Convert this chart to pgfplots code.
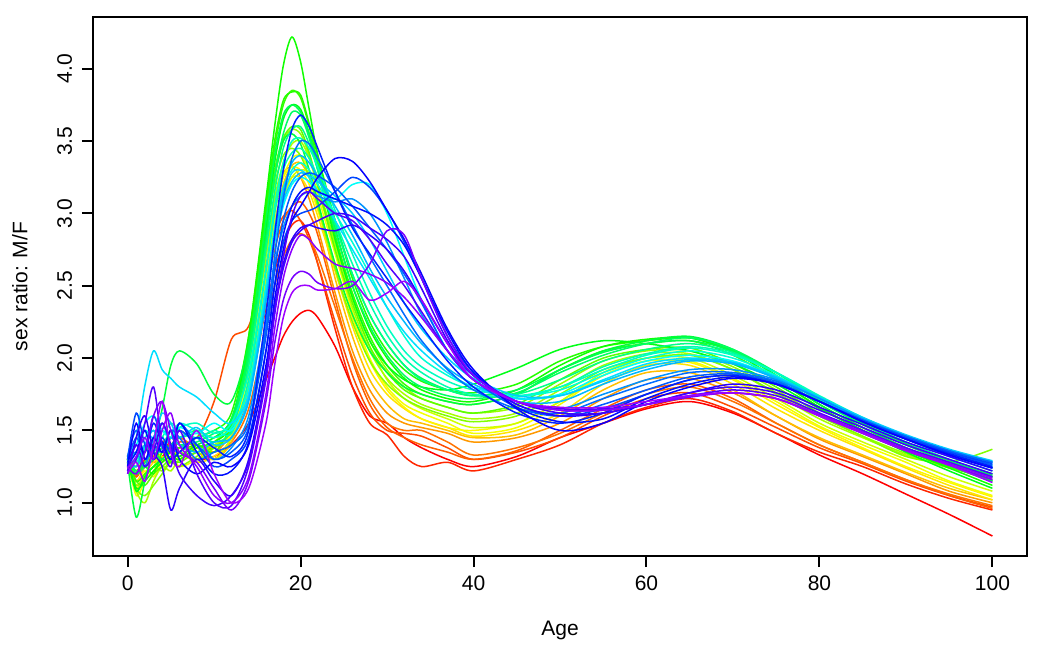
\documentclass[border=0pt]{standalone}
\usepackage{pgfplots}
\pgfplotsset{compat=1.18}
\usepackage{fontspec}
\setmainfont{Liberation Sans}
\definecolor{c0}{hsb}{0.0000,1,1}
\definecolor{c1}{hsb}{0.0248,1,1}
\definecolor{c2}{hsb}{0.0497,1,1}
\definecolor{c2b}{hsb}{0.0620,1,1}
\definecolor{c3}{hsb}{0.0745,1,1}
\definecolor{c4}{hsb}{0.0994,1,1}
\definecolor{c5}{hsb}{0.1242,1,1}
\definecolor{c6}{hsb}{0.1490,1,1}
\definecolor{c6b}{hsb}{0.1610,1,1}
\definecolor{c7}{hsb}{0.1739,1,1}
\definecolor{c8}{hsb}{0.1987,1,1}
\definecolor{c9}{hsb}{0.2235,1,1}
\definecolor{c9b}{hsb}{0.2360,1,1}
\definecolor{c10}{hsb}{0.2484,1,1}
\definecolor{c11}{hsb}{0.2732,1,1}
\definecolor{c12}{hsb}{0.2981,1,1}
\definecolor{c12b}{hsb}{0.3100,1,1}
\definecolor{c13}{hsb}{0.3229,1,1}
\definecolor{c14}{hsb}{0.3477,1,1}
\definecolor{c15}{hsb}{0.3726,1,1}
\definecolor{c15b}{hsb}{0.3850,1,1}
\definecolor{c16}{hsb}{0.3974,1,1}
\definecolor{c17}{hsb}{0.4223,1,1}
\definecolor{c18}{hsb}{0.4471,1,1}
\definecolor{c18b}{hsb}{0.4600,1,1}
\definecolor{c19}{hsb}{0.4719,1,1}
\definecolor{c20}{hsb}{0.4968,1,1}
\definecolor{c21}{hsb}{0.5216,1,1}
\definecolor{c21b}{hsb}{0.5340,1,1}
\definecolor{c22}{hsb}{0.5465,1,1}
\definecolor{c23}{hsb}{0.5713,1,1}
\definecolor{c24}{hsb}{0.5961,1,1}
\definecolor{c24b}{hsb}{0.6080,1,1}
\definecolor{c25}{hsb}{0.6210,1,1}
\definecolor{c26}{hsb}{0.6458,1,1}
\definecolor{c26b}{hsb}{0.6580,1,1}
\definecolor{c27}{hsb}{0.6706,1,1}
\definecolor{c28}{hsb}{0.6955,1,1}
\definecolor{c28b}{hsb}{0.7080,1,1}
\definecolor{c29}{hsb}{0.7203,1,1}
\definecolor{c30}{hsb}{0.7452,1,1}
\definecolor{c30b}{hsb}{0.7580,1,1}
\definecolor{c31}{hsb}{0.7700,1,1}
\begin{document}
\begin{tikzpicture}
\path[use as bounding box] (-46.5pt,-46pt) rectangle (477.5pt,278pt);
\begin{axis}[
  at={(0,0)}, anchor=south west,
  scale only axis, width=467pt, height=269.5pt,
  xmin=-4, xmax=104, ymin=0.632, ymax=4.358,
  xtick={0,20,40,60,80,100},
  ytick={1,1.5,2,2.5,3,3.5,4},
  yticklabel={\pgfmathprintnumber[fixed,fixed zerofill,precision=1]{\tick}},
  /pgf/number format/assume math mode=true,
  tick align=outside, xtick pos=left, ytick pos=left,
  major tick length=5.5pt,
  every tick/.style={black, line width=1pt},
  axis line style={line width=1.2pt},
  tick label style={font=\fontsize{10.5}{12}\selectfont},
  label style={font=\fontsize{10.5}{12}\selectfont},
  xticklabel style={anchor=center, yshift=-8pt},
  yticklabel style={xshift=-8.7pt, rotate=90, anchor=center},
  xlabel={Age}, ylabel={sex ratio: M/F},
  xlabel style={at={(axis description cs:0.5,-0.139)}, anchor=center},
  ylabel style={at={(axis description cs:-0.0782,0.5)}, anchor=center},
  every axis plot/.append style={smooth, line width=0.75pt, mark=none},
  clip=true,
]
\addplot[c0] coordinates {(0,1.25)(1,1.18)(2,1.30)(3,1.28)(4,1.32)(5,1.38)(6,1.35)(8,1.30)(10,1.32)(12,1.40)(14,1.55)(16,1.85)(17,2.00)(18,2.15)(19,2.25)(20,2.31)(21,2.33)(22,2.28)(24,2.08)(26,1.80)(28,1.60)(30,1.55)(32,1.45)(34,1.38)(37,1.30)(40,1.25)(45,1.32)(50,1.45)(55,1.55)(60,1.65)(65,1.70)(70,1.62)(75,1.48)(80,1.33)(85,1.20)(90,1.06)(95,0.92)(100,0.77)};
\addplot[c1] coordinates {(0,1.30)(1,1.20)(2,1.35)(3,1.40)(4,1.30)(5,1.45)(6,1.40)(8,1.35)(10,1.30)(12,1.45)(14,1.75)(16,2.35)(17,2.60)(18,2.80)(19,2.92)(20,2.95)(21,2.85)(22,2.65)(24,2.20)(26,1.80)(28,1.55)(30,1.47)(32,1.32)(34,1.25)(37,1.28)(40,1.22)(45,1.30)(50,1.40)(55,1.55)(60,1.66)(65,1.72)(70,1.63)(75,1.48)(80,1.35)(85,1.25)(90,1.13)(95,1.03)(100,0.95)};
\addplot[c2] coordinates {(0,1.28)(1,1.22)(2,1.30)(3,1.35)(4,1.42)(5,1.45)(6,1.50)(8,1.45)(10,1.70)(12,2.13)(14,2.22)(16,2.65)(17,2.85)(18,2.98)(19,3.02)(20,2.95)(21,2.82)(22,2.65)(24,2.25)(26,1.88)(28,1.62)(30,1.50)(32,1.48)(34,1.46)(37,1.38)(40,1.30)(45,1.35)(50,1.45)(55,1.60)(60,1.72)(65,1.76)(70,1.66)(75,1.52)(80,1.38)(85,1.27)(90,1.15)(95,1.05)(100,0.97)};
\addplot[c2b] coordinates {(0,1.30)(1,1.18)(2,1.28)(3,1.32)(4,1.38)(5,1.35)(6,1.42)(8,1.40)(10,1.38)(12,1.48)(14,1.80)(16,2.45)(17,2.75)(18,2.95)(19,3.05)(20,3.08)(21,3.00)(22,2.85)(24,2.40)(26,1.98)(28,1.68)(30,1.52)(32,1.45)(34,1.40)(37,1.35)(40,1.30)(45,1.36)(50,1.50)(55,1.65)(60,1.78)(65,1.82)(70,1.72)(75,1.55)(80,1.40)(85,1.28)(90,1.16)(95,1.05)(100,0.96)};
\addplot[c3] coordinates {(0,1.32)(1,1.25)(2,1.38)(3,1.30)(4,1.35)(5,1.40)(6,1.45)(8,1.38)(10,1.35)(12,1.42)(14,1.65)(16,2.20)(17,2.50)(18,2.70)(19,2.82)(20,2.86)(21,2.82)(22,2.70)(24,2.35)(26,2.00)(28,1.72)(30,1.55)(32,1.50)(34,1.50)(37,1.42)(40,1.33)(45,1.38)(50,1.48)(55,1.62)(60,1.75)(65,1.80)(70,1.70)(75,1.55)(80,1.40)(85,1.28)(90,1.16)(95,1.06)(100,0.98)};
\addplot[c4] coordinates {(0,1.30)(1,1.20)(2,1.25)(3,1.30)(4,1.28)(5,1.35)(6,1.32)(8,1.40)(10,1.35)(12,1.50)(14,2.00)(16,2.75)(17,3.10)(18,3.28)(19,3.32)(20,3.25)(21,3.10)(22,2.90)(24,2.45)(26,2.05)(28,1.78)(30,1.62)(32,1.55)(34,1.52)(37,1.48)(40,1.42)(45,1.45)(50,1.55)(55,1.72)(60,1.85)(65,1.86)(70,1.76)(75,1.60)(80,1.44)(85,1.32)(90,1.20)(95,1.08)(100,1.00)};
\addplot[c5] coordinates {(0,1.28)(1,1.15)(2,1.25)(3,1.35)(4,1.40)(5,1.30)(6,1.38)(8,1.35)(10,1.30)(12,1.42)(14,1.80)(16,2.50)(17,2.90)(18,3.20)(19,3.33)(20,3.35)(21,3.25)(22,3.05)(24,2.55)(26,2.15)(28,1.85)(30,1.68)(32,1.58)(34,1.55)(37,1.50)(40,1.45)(45,1.47)(50,1.60)(55,1.78)(60,1.90)(65,1.90)(70,1.78)(75,1.60)(80,1.45)(85,1.33)(90,1.21)(95,1.10)(100,1.02)};
\addplot[c6] coordinates {(0,1.25)(1,1.10)(2,1.20)(3,1.28)(4,1.32)(5,1.30)(6,1.35)(8,1.28)(10,1.32)(12,1.45)(14,1.85)(16,2.55)(17,2.95)(18,3.15)(19,3.25)(20,3.25)(21,3.15)(22,2.98)(24,2.60)(26,2.22)(28,1.92)(30,1.75)(32,1.65)(34,1.58)(37,1.52)(40,1.46)(45,1.50)(50,1.62)(55,1.82)(60,1.95)(65,1.95)(70,1.82)(75,1.65)(80,1.50)(85,1.37)(90,1.24)(95,1.12)(100,1.02)};
\addplot[c6b] coordinates {(0,1.27)(1,1.15)(2,1.22)(3,1.18)(4,1.28)(5,1.32)(6,1.30)(8,1.35)(10,1.40)(12,1.50)(14,1.95)(16,2.70)(17,3.05)(18,3.25)(19,3.32)(20,3.30)(21,3.20)(22,3.02)(24,2.65)(26,2.28)(28,1.98)(30,1.78)(32,1.66)(34,1.58)(37,1.52)(40,1.50)(45,1.55)(50,1.70)(55,1.88)(60,1.98)(65,1.97)(70,1.85)(75,1.68)(80,1.52)(85,1.38)(90,1.25)(95,1.14)(100,1.04)};
\addplot[c7] coordinates {(0,1.30)(1,1.05)(2,1.15)(3,1.22)(4,1.30)(5,1.35)(6,1.25)(8,1.30)(10,1.38)(12,1.48)(14,1.90)(16,2.60)(17,3.00)(18,3.25)(19,3.38)(20,3.40)(21,3.30)(22,3.12)(24,2.72)(26,2.32)(28,2.00)(30,1.80)(32,1.68)(34,1.62)(37,1.55)(40,1.48)(45,1.52)(50,1.68)(55,1.88)(60,1.98)(65,1.98)(70,1.86)(75,1.70)(80,1.53)(85,1.40)(90,1.28)(95,1.15)(100,1.05)};
\addplot[c8] coordinates {(0,1.28)(1,1.12)(2,1.20)(3,1.25)(4,1.35)(5,1.28)(6,1.32)(8,1.38)(10,1.30)(12,1.45)(14,1.80)(16,2.45)(17,2.85)(18,3.10)(19,3.25)(20,3.30)(21,3.28)(22,3.15)(24,2.78)(26,2.40)(28,2.08)(30,1.85)(32,1.72)(34,1.65)(37,1.58)(40,1.52)(45,1.55)(50,1.70)(55,1.90)(60,2.00)(65,2.00)(70,1.88)(75,1.72)(80,1.55)(85,1.42)(90,1.30)(95,1.18)(100,1.08)};
\addplot[c9] coordinates {(0,1.30)(1,1.08)(2,1.00)(3,1.15)(4,1.25)(5,1.22)(6,1.30)(8,1.35)(10,1.40)(12,1.50)(14,1.95)(16,2.70)(17,3.10)(18,3.35)(19,3.48)(20,3.50)(21,3.38)(22,3.18)(24,2.75)(26,2.35)(28,2.05)(30,1.86)(32,1.75)(34,1.68)(37,1.62)(40,1.58)(45,1.62)(50,1.78)(55,1.95)(60,2.03)(65,2.03)(70,1.92)(75,1.75)(80,1.58)(85,1.45)(90,1.33)(95,1.25)(100,1.20)};
\addplot[c9b] coordinates {(0,1.33)(1,1.12)(2,1.18)(3,1.25)(4,1.22)(5,1.30)(6,1.35)(8,1.30)(10,1.38)(12,1.52)(14,2.02)(16,2.85)(17,3.25)(18,3.50)(19,3.58)(20,3.55)(21,3.40)(22,3.20)(24,2.80)(26,2.42)(28,2.12)(30,1.92)(32,1.80)(34,1.72)(37,1.66)(40,1.62)(45,1.66)(50,1.82)(55,1.98)(60,2.05)(65,2.05)(70,1.94)(75,1.78)(80,1.60)(85,1.46)(90,1.34)(95,1.24)(100,1.18)};
\addplot[c10] coordinates {(0,1.32)(1,1.10)(2,1.05)(3,1.12)(4,1.20)(5,1.28)(6,1.25)(8,1.32)(10,1.42)(12,1.55)(14,2.00)(16,2.85)(17,3.20)(18,3.40)(19,3.45)(20,3.40)(21,3.25)(22,3.05)(24,2.62)(26,2.25)(28,1.98)(30,1.82)(32,1.72)(34,1.66)(37,1.60)(40,1.56)(45,1.60)(50,1.75)(55,1.92)(60,2.00)(65,2.02)(70,1.92)(75,1.76)(80,1.60)(85,1.46)(90,1.32)(95,1.28)(100,1.37)};
\addplot[c11] coordinates {(0,1.30)(1,1.15)(2,1.12)(3,1.20)(4,1.25)(5,1.30)(6,1.28)(8,1.35)(10,1.38)(12,1.52)(14,2.05)(16,2.90)(17,3.30)(18,3.52)(19,3.60)(20,3.58)(21,3.42)(22,3.20)(24,2.75)(26,2.38)(28,2.08)(30,1.90)(32,1.78)(34,1.72)(37,1.66)(40,1.62)(45,1.68)(50,1.85)(55,2.00)(60,2.06)(65,2.07)(70,1.96)(75,1.80)(80,1.62)(85,1.48)(90,1.36)(95,1.25)(100,1.16)};
\addplot[c12] coordinates {(0,1.32)(1,1.15)(2,1.20)(3,1.25)(4,1.30)(5,1.28)(6,1.35)(8,1.40)(10,1.35)(12,1.55)(14,2.10)(16,3.00)(17,3.45)(18,3.75)(19,3.85)(20,3.80)(21,3.60)(22,3.35)(24,2.85)(26,2.45)(28,2.15)(30,1.95)(32,1.82)(34,1.75)(37,1.70)(40,1.68)(45,1.75)(50,1.92)(55,2.05)(60,2.10)(65,2.12)(70,2.02)(75,1.85)(80,1.66)(85,1.50)(90,1.36)(95,1.25)(100,1.15)};
\addplot[c12b] coordinates {(0,1.30)(1,1.20)(2,1.25)(3,1.20)(4,1.35)(5,1.40)(6,1.38)(8,1.45)(10,1.50)(12,1.62)(14,2.15)(16,3.05)(17,3.50)(18,3.78)(19,3.84)(20,3.82)(21,3.62)(22,3.40)(24,2.95)(26,2.55)(28,2.25)(30,2.05)(32,1.92)(34,1.84)(37,1.78)(40,1.76)(45,1.82)(50,1.98)(55,2.08)(60,2.12)(65,2.14)(70,2.05)(75,1.88)(80,1.68)(85,1.52)(90,1.38)(95,1.27)(100,1.18)};
\addplot[c13] coordinates {(0,1.30)(1,1.10)(2,1.15)(3,1.22)(4,1.28)(5,1.32)(6,1.30)(8,1.38)(10,1.42)(12,1.55)(14,2.15)(16,3.10)(17,3.60)(18,4.02)(19,4.22)(20,4.05)(21,3.72)(22,3.40)(24,2.90)(26,2.50)(28,2.20)(30,2.00)(32,1.86)(34,1.78)(37,1.72)(40,1.70)(45,1.78)(50,1.95)(55,2.08)(60,2.13)(65,2.14)(70,2.04)(75,1.86)(80,1.66)(85,1.50)(90,1.36)(95,1.24)(100,1.12)};
\addplot[c14] coordinates {(0,1.30)(1,1.08)(2,1.18)(3,1.25)(4,1.30)(5,1.35)(6,1.32)(8,1.40)(10,1.45)(12,1.58)(14,2.05)(16,2.90)(17,3.35)(18,3.65)(19,3.75)(20,3.72)(21,3.55)(22,3.30)(24,2.82)(26,2.42)(28,2.12)(30,1.95)(32,1.85)(34,1.80)(37,1.78)(40,1.82)(45,1.93)(50,2.06)(55,2.12)(60,2.10)(65,2.05)(70,1.96)(75,1.82)(80,1.65)(85,1.50)(90,1.35)(95,1.22)(100,1.10)};
\addplot[c15] coordinates {(0,1.28)(1,0.90)(2,1.15)(3,1.40)(4,1.65)(5,1.95)(6,2.05)(8,1.96)(10,1.75)(12,1.70)(14,2.10)(16,2.85)(17,3.25)(18,3.50)(19,3.55)(20,3.48)(21,3.30)(22,3.08)(24,2.65)(26,2.30)(28,2.05)(30,1.90)(32,1.80)(34,1.75)(37,1.70)(40,1.68)(45,1.75)(50,1.92)(55,2.05)(60,2.12)(65,2.15)(70,2.06)(75,1.88)(80,1.68)(85,1.52)(90,1.38)(95,1.26)(100,1.15)};
\addplot[c15b] coordinates {(0,1.32)(1,1.22)(2,1.28)(3,1.35)(4,1.30)(5,1.40)(6,1.45)(8,1.50)(10,1.45)(12,1.58)(14,2.05)(16,2.95)(17,3.40)(18,3.68)(19,3.75)(20,3.70)(21,3.55)(22,3.35)(24,2.95)(26,2.58)(28,2.30)(30,2.10)(32,1.95)(34,1.86)(37,1.78)(40,1.74)(45,1.78)(50,1.92)(55,2.04)(60,2.10)(65,2.12)(70,2.05)(75,1.90)(80,1.71)(85,1.55)(90,1.41)(95,1.29)(100,1.19)};
\addplot[c16] coordinates {(0,1.32)(1,1.20)(2,1.25)(3,1.30)(4,1.38)(5,1.45)(6,1.40)(8,1.42)(10,1.48)(12,1.55)(14,2.00)(16,2.80)(17,3.25)(18,3.55)(19,3.70)(20,3.68)(21,3.52)(22,3.30)(24,2.88)(26,2.50)(28,2.22)(30,2.02)(32,1.88)(34,1.80)(37,1.74)(40,1.72)(45,1.76)(50,1.90)(55,2.02)(60,2.10)(65,2.14)(70,2.06)(75,1.90)(80,1.70)(85,1.54)(90,1.40)(95,1.28)(100,1.18)};
\addplot[c17] coordinates {(0,1.30)(1,1.25)(2,1.35)(3,1.45)(4,1.40)(5,1.50)(6,1.45)(8,1.48)(10,1.42)(12,1.50)(14,1.95)(16,2.75)(17,3.15)(18,3.45)(19,3.58)(20,3.60)(21,3.48)(22,3.30)(24,2.92)(26,2.58)(28,2.30)(30,2.10)(32,1.95)(34,1.85)(37,1.78)(40,1.74)(45,1.75)(50,1.85)(55,1.98)(60,2.06)(65,2.10)(70,2.04)(75,1.90)(80,1.72)(85,1.56)(90,1.42)(95,1.30)(100,1.20)};
\addplot[c18] coordinates {(0,1.28)(1,1.30)(2,1.40)(3,1.35)(4,1.45)(5,1.55)(6,1.50)(8,1.45)(10,1.50)(12,1.48)(14,1.85)(16,2.60)(17,3.00)(18,3.30)(19,3.42)(20,3.45)(21,3.38)(22,3.25)(24,2.95)(26,2.65)(28,2.38)(30,2.16)(32,2.00)(34,1.90)(37,1.80)(40,1.75)(45,1.73)(50,1.80)(55,1.94)(60,2.03)(65,2.08)(70,2.03)(75,1.90)(80,1.73)(85,1.57)(90,1.44)(95,1.32)(100,1.22)};
\addplot[c18b] coordinates {(0,1.30)(1,1.28)(2,1.38)(3,1.42)(4,1.50)(5,1.45)(6,1.52)(8,1.55)(10,1.48)(12,1.55)(14,1.90)(16,2.62)(17,3.05)(18,3.35)(19,3.50)(20,3.52)(21,3.45)(22,3.32)(24,3.02)(26,2.72)(28,2.45)(30,2.22)(32,2.05)(34,1.94)(37,1.84)(40,1.78)(45,1.74)(50,1.80)(55,1.92)(60,2.02)(65,2.07)(70,2.02)(75,1.90)(80,1.74)(85,1.59)(90,1.46)(95,1.34)(100,1.25)};
\addplot[c19] coordinates {(0,1.30)(1,1.35)(2,1.45)(3,1.50)(4,1.40)(5,1.45)(6,1.55)(8,1.50)(10,1.45)(12,1.52)(14,1.80)(16,2.50)(17,2.90)(18,3.18)(19,3.30)(20,3.35)(21,3.30)(22,3.20)(24,3.00)(26,2.80)(28,2.58)(30,2.35)(32,2.15)(34,2.00)(37,1.88)(40,1.80)(45,1.74)(50,1.78)(55,1.90)(60,2.00)(65,2.05)(70,2.00)(75,1.88)(80,1.72)(85,1.58)(90,1.45)(95,1.33)(100,1.24)};
\addplot[c20] coordinates {(0,1.32)(1,1.40)(2,1.55)(3,1.60)(4,1.50)(5,1.45)(6,1.52)(8,1.48)(10,1.55)(12,1.50)(14,1.75)(16,2.40)(17,2.80)(18,3.05)(19,3.20)(20,3.25)(21,3.22)(22,3.15)(24,3.10)(26,3.20)(28,3.20)(30,3.00)(32,2.70)(34,2.40)(37,2.05)(40,1.85)(45,1.72)(50,1.75)(55,1.88)(60,1.98)(65,2.02)(70,1.98)(75,1.87)(80,1.72)(85,1.58)(90,1.46)(95,1.35)(100,1.26)};
\addplot[c21] coordinates {(0,1.30)(1,1.45)(2,1.81)(3,2.05)(4,1.92)(5,1.86)(6,1.80)(8,1.73)(10,1.62)(12,1.55)(14,1.75)(16,2.45)(17,2.85)(18,3.12)(19,3.28)(20,3.30)(21,3.25)(22,3.15)(24,2.95)(26,2.75)(28,2.55)(30,2.35)(32,2.18)(34,2.05)(37,1.90)(40,1.80)(45,1.72)(50,1.74)(55,1.85)(60,1.96)(65,2.00)(70,1.97)(75,1.86)(80,1.72)(85,1.58)(90,1.46)(95,1.36)(100,1.28)};
\addplot[c21b] coordinates {(0,1.28)(1,1.35)(2,1.50)(3,1.45)(4,1.62)(5,1.55)(6,1.45)(8,1.52)(10,1.40)(12,1.45)(14,1.72)(16,2.40)(17,2.80)(18,3.08)(19,3.22)(20,3.28)(21,3.26)(22,3.22)(24,3.12)(26,3.00)(28,2.82)(30,2.60)(32,2.38)(34,2.20)(37,2.00)(40,1.86)(45,1.74)(50,1.74)(55,1.84)(60,1.94)(65,1.99)(70,1.97)(75,1.87)(80,1.73)(85,1.59)(90,1.47)(95,1.37)(100,1.29)};
\addplot[c22] coordinates {(0,1.28)(1,1.25)(2,1.40)(3,1.50)(4,1.38)(5,1.45)(6,1.40)(8,1.35)(10,1.42)(12,1.45)(14,1.70)(16,2.40)(17,2.85)(18,3.15)(19,3.35)(20,3.40)(21,3.35)(22,3.25)(24,3.05)(26,2.85)(28,2.62)(30,2.42)(32,2.25)(34,2.10)(37,1.93)(40,1.82)(45,1.70)(50,1.70)(55,1.82)(60,1.92)(65,1.98)(70,1.96)(75,1.86)(80,1.72)(85,1.58)(90,1.46)(95,1.36)(100,1.28)};
\addplot[c23] coordinates {(0,1.30)(1,1.35)(2,1.25)(3,1.45)(4,1.55)(5,1.40)(6,1.35)(8,1.45)(10,1.30)(12,1.38)(14,1.60)(16,2.25)(17,2.65)(18,2.90)(19,3.05)(20,3.12)(21,3.15)(22,3.12)(24,3.08)(26,3.10)(28,3.00)(30,2.80)(32,2.55)(34,2.30)(37,2.05)(40,1.88)(45,1.70)(50,1.65)(55,1.75)(60,1.85)(65,1.92)(70,1.92)(75,1.85)(80,1.72)(85,1.58)(90,1.46)(95,1.36)(100,1.28)};
\addplot[c24] coordinates {(0,1.32)(1,1.50)(2,1.30)(3,1.40)(4,1.35)(5,1.50)(6,1.45)(8,1.30)(10,1.35)(12,1.40)(14,1.55)(16,2.20)(17,2.70)(18,3.10)(19,3.38)(20,3.50)(21,3.48)(22,3.38)(24,3.15)(26,2.92)(28,2.70)(30,2.50)(32,2.30)(34,2.12)(37,1.92)(40,1.78)(45,1.65)(50,1.62)(55,1.72)(60,1.82)(65,1.90)(70,1.90)(75,1.84)(80,1.70)(85,1.57)(90,1.46)(95,1.36)(100,1.28)};
\addplot[c24b] coordinates {(0,1.30)(1,1.45)(2,1.35)(3,1.60)(4,1.42)(5,1.38)(6,1.50)(8,1.40)(10,1.30)(12,1.35)(14,1.52)(16,2.15)(17,2.60)(18,2.95)(19,3.15)(20,3.25)(21,3.28)(22,3.26)(24,3.18)(26,3.05)(28,2.90)(30,2.75)(32,2.58)(34,2.38)(37,2.05)(40,1.85)(45,1.66)(50,1.60)(55,1.68)(60,1.78)(65,1.87)(70,1.89)(75,1.83)(80,1.70)(85,1.57)(90,1.45)(95,1.35)(100,1.26)};
\addplot[c25] coordinates {(0,1.30)(1,1.62)(2,1.40)(3,1.30)(4,1.45)(5,1.35)(6,1.55)(8,1.40)(10,1.25)(12,1.30)(14,1.45)(16,2.05)(17,2.50)(18,2.80)(19,2.95)(20,3.00)(21,3.02)(22,3.05)(24,3.15)(26,3.25)(28,3.18)(30,3.02)(32,2.80)(34,2.55)(37,2.15)(40,1.90)(45,1.68)(50,1.60)(55,1.65)(60,1.75)(65,1.85)(70,1.88)(75,1.82)(80,1.70)(85,1.57)(90,1.45)(95,1.35)(100,1.27)};
\addplot[c26] coordinates {(0,1.28)(1,1.40)(2,1.35)(3,1.55)(4,1.40)(5,1.30)(6,1.35)(8,1.45)(10,1.38)(12,1.32)(14,1.50)(16,2.30)(17,2.85)(18,3.30)(19,3.58)(20,3.68)(21,3.60)(22,3.45)(24,3.15)(26,2.90)(28,2.72)(30,2.55)(32,2.38)(34,2.22)(37,1.98)(40,1.80)(45,1.62)(50,1.55)(55,1.62)(60,1.75)(65,1.85)(70,1.88)(75,1.82)(80,1.70)(85,1.56)(90,1.44)(95,1.34)(100,1.25)};
\addplot[c26b] coordinates {(0,1.26)(1,1.35)(2,1.50)(3,1.30)(4,1.42)(5,1.30)(6,1.55)(8,1.35)(10,1.20)(12,1.22)(14,1.42)(16,2.05)(17,2.50)(18,2.85)(19,3.05)(20,3.15)(21,3.18)(22,3.15)(24,3.10)(26,3.05)(28,3.00)(30,2.92)(32,2.78)(34,2.55)(37,2.18)(40,1.90)(45,1.66)(50,1.56)(55,1.58)(60,1.72)(65,1.82)(70,1.87)(75,1.82)(80,1.70)(85,1.56)(90,1.44)(95,1.33)(100,1.24)};
\addplot[c27] coordinates {(0,1.25)(1,1.55)(2,1.30)(3,1.45)(4,1.35)(5,1.50)(6,1.30)(8,1.20)(10,1.28)(12,1.25)(14,1.40)(16,1.95)(17,2.40)(18,2.75)(19,2.95)(20,3.05)(21,3.15)(22,3.25)(24,3.38)(26,3.36)(28,3.22)(30,3.02)(32,2.82)(34,2.58)(37,2.20)(40,1.92)(45,1.65)(50,1.50)(55,1.55)(60,1.70)(65,1.80)(70,1.86)(75,1.82)(80,1.70)(85,1.56)(90,1.44)(95,1.33)(100,1.24)};
\addplot[c28] coordinates {(0,1.20)(1,1.45)(2,1.60)(3,1.35)(4,1.25)(5,0.95)(6,1.10)(8,1.30)(10,1.15)(12,1.05)(14,1.30)(16,1.90)(17,2.35)(18,2.65)(19,2.82)(20,2.90)(21,2.92)(22,2.90)(24,2.88)(26,2.92)(28,2.85)(30,2.75)(32,2.60)(34,2.40)(37,2.10)(40,1.88)(45,1.68)(50,1.60)(55,1.62)(60,1.68)(65,1.76)(70,1.82)(75,1.78)(80,1.66)(85,1.54)(90,1.42)(95,1.32)(100,1.22)};
\addplot[c28b] coordinates {(0,1.22)(1,1.40)(2,1.25)(3,1.35)(4,1.55)(5,1.40)(6,1.20)(8,1.05)(10,0.98)(12,1.05)(14,1.28)(16,1.88)(17,2.32)(18,2.62)(19,2.80)(20,2.88)(21,2.92)(22,2.95)(24,3.00)(26,2.98)(28,2.90)(30,2.82)(32,2.70)(34,2.48)(37,2.12)(40,1.88)(45,1.70)(50,1.62)(55,1.62)(60,1.68)(65,1.76)(70,1.80)(75,1.76)(80,1.64)(85,1.52)(90,1.40)(95,1.30)(100,1.20)};
\addplot[c29] coordinates {(0,1.22)(1,1.30)(2,1.55)(3,1.80)(4,1.40)(5,1.25)(6,1.50)(8,1.20)(10,1.00)(12,0.98)(14,1.25)(16,1.85)(17,2.30)(18,2.70)(19,2.98)(20,3.12)(21,3.15)(22,3.10)(24,3.00)(26,2.95)(28,2.82)(30,2.65)(32,2.50)(34,2.32)(37,2.05)(40,1.85)(45,1.70)(50,1.65)(55,1.65)(60,1.68)(65,1.74)(70,1.78)(75,1.74)(80,1.62)(85,1.50)(90,1.38)(95,1.28)(100,1.18)};
\addplot[c30] coordinates {(0,1.25)(1,1.20)(2,1.35)(3,1.60)(4,1.70)(5,1.50)(6,1.35)(8,1.28)(10,1.10)(12,0.95)(14,1.15)(16,1.70)(17,2.10)(18,2.40)(19,2.55)(20,2.60)(21,2.58)(22,2.52)(24,2.48)(26,2.50)(28,2.65)(30,2.88)(32,2.85)(34,2.55)(37,2.15)(40,1.88)(45,1.70)(50,1.64)(55,1.64)(60,1.68)(65,1.73)(70,1.76)(75,1.72)(80,1.60)(85,1.48)(90,1.36)(95,1.26)(100,1.16)};
\addplot[c30b] coordinates {(0,1.24)(1,1.32)(2,1.45)(3,1.30)(4,1.50)(5,1.62)(6,1.40)(8,1.25)(10,1.05)(12,1.00)(14,1.18)(16,1.75)(17,2.20)(18,2.55)(19,2.75)(20,2.85)(21,2.82)(22,2.75)(24,2.65)(26,2.62)(28,2.58)(30,2.52)(32,2.42)(34,2.28)(37,2.05)(40,1.85)(45,1.70)(50,1.64)(55,1.64)(60,1.68)(65,1.74)(70,1.76)(75,1.72)(80,1.61)(85,1.49)(90,1.37)(95,1.27)(100,1.17)};
\addplot[c31] coordinates {(0,1.20)(1,1.28)(2,1.15)(3,1.40)(4,1.70)(5,1.35)(6,1.25)(8,1.50)(10,1.20)(12,1.00)(14,1.10)(16,1.55)(17,1.95)(18,2.28)(19,2.45)(20,2.50)(21,2.50)(22,2.47)(24,2.48)(26,2.53)(28,2.40)(30,2.45)(32,2.53)(34,2.40)(37,2.10)(40,1.85)(45,1.70)(50,1.66)(55,1.66)(60,1.70)(65,1.74)(70,1.76)(75,1.72)(80,1.60)(85,1.48)(90,1.36)(95,1.26)(100,1.14)};
\end{axis}
\end{tikzpicture}
\end{document}
